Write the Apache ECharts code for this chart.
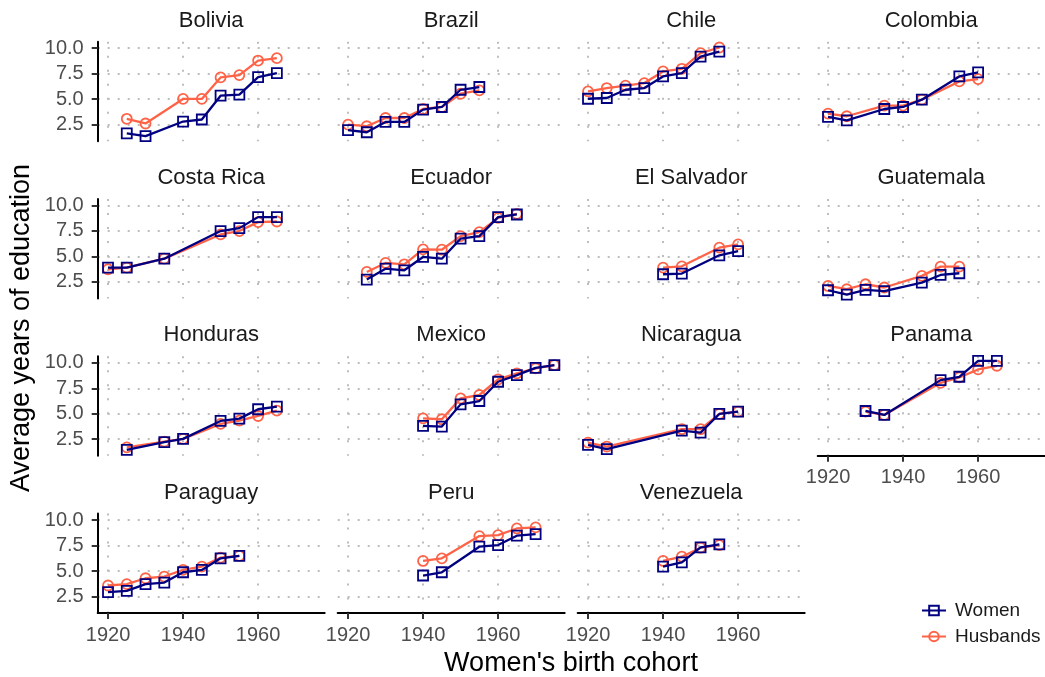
<!DOCTYPE html>
<html><head><meta charset="utf-8">
<script src="https://cdn.jsdelivr.net/npm/echarts@6/dist/echarts.min.js"></script>
<style>html,body{margin:0;padding:0;background:#fff}#c{width:1045px;height:677px}</style>
</head><body><div id="c"></div>
<script>
// ---- data ----
const countries = ['Bolivia','Brazil','Chile','Colombia','Costa Rica','Ecuador','El Salvador','Guatemala','Honduras','Mexico','Nicaragua','Panama','Paraguay','Peru','Venezuela'];
const xTicks = [1920, 1940, 1960];
const yTicks = [2.5, 5, 7.5, 10];

const boliviaYears = [1925,1930,1940,1945,1950,1955,1960,1965];
const boliviaWomen = [1.63,1.37,2.80,3.00,5.34,5.44,7.17,7.56];
const boliviaHusbands = [3.07,2.61,5.02,5.02,7.13,7.36,8.79,9.02];

const brazilYears = [1920,1925,1930,1935,1940,1945,1950,1955];
const brazilWomen = [1.95,1.75,2.76,2.76,3.97,4.23,5.92,6.19];
const brazilHusbands = [2.50,2.34,3.15,3.15,4.03,4.23,5.53,5.86];

const chileYears = [1920,1925,1930,1935,1940,1945,1950,1955];
const chileWomen = [5.04,5.11,5.92,6.09,7.23,7.55,9.18,9.67];
const chileHusbands = [5.76,6.09,6.32,6.58,7.72,7.98,9.51,10.07];

const colombiaYears = [1920,1925,1935,1940,1945,1955,1960];
const colombiaWomen = [3.25,2.92,4.03,4.23,4.95,7.23,7.62];
const colombiaHusbands = [3.58,3.32,4.36,4.36,4.95,6.74,6.97];

const costaRicaYears = [1920,1925,1935,1950,1955,1960,1965];
const costaRicaWomen = [3.90,3.90,4.78,7.49,7.78,8.86,8.86];
const costaRicaHusbands = [3.74,3.90,4.78,7.16,7.49,8.37,8.43];

const ecuadorYears = [1925,1930,1935,1940,1945,1950,1955,1960,1965];
const ecuadorWomen = [2.73,3.80,3.64,4.95,4.78,6.74,7.00,8.86,9.12];
const ecuadorHusbands = [3.48,4.36,4.23,5.70,5.66,7.00,7.39,8.79,9.18];

const elSalvadorYears = [1940,1945,1955,1960];
const elSalvadorWomen = [3.25,3.32,5.11,5.53];
const elSalvadorHusbands = [3.90,4.03,5.86,6.19];

const guatemalaYears = [1920,1925,1930,1935,1945,1950,1955];
const guatemalaWomen = [1.68,1.26,1.72,1.59,2.43,3.18,3.35];
const guatemalaHusbands = [2.10,1.78,2.27,1.95,3.09,4.00,4.00];

const hondurasYears = [1925,1935,1940,1950,1955,1960,1965];
const hondurasWomen = [1.46,2.21,2.53,4.29,4.52,5.44,5.70];
const hondurasHusbands = [1.69,2.27,2.53,4.00,4.33,4.78,5.30];

const mexicoYears = [1940,1945,1950,1955,1960,1965,1970,1975];
const mexicoWomen = [3.81,3.74,5.92,6.25,8.14,8.79,9.51,9.77];
const mexicoHusbands = [4.55,4.46,6.51,6.84,8.37,8.96,9.45,9.77];

const nicaraguaYears = [1920,1925,1945,1950,1955,1960];
const nicaraguaWomen = [1.95,1.52,3.35,3.15,4.98,5.20];
const nicaraguaHusbands = [2.17,1.78,3.48,3.48,4.98,5.20];

const panamaYears = [1930,1935,1950,1955,1960,1965];
const panamaWomen = [5.27,4.88,8.30,8.63,10.20,10.20];
const panamaHusbands = [5.20,4.88,8.04,8.57,9.35,9.71];

const paraguayYears = [1920,1925,1930,1935,1940,1945,1950,1955];
const paraguayWomen = [2.92,3.05,3.71,3.87,4.88,5.11,6.25,6.48];
const paraguayHusbands = [3.58,3.71,4.29,4.46,5.11,5.44,6.32,6.48];

const peruYears = [1940,1945,1955,1960,1965,1970];
const peruWomen = [4.56,4.88,7.39,7.55,8.47,8.63];
const peruHusbands = [5.99,6.25,8.43,8.53,9.18,9.28];

const venezuelaYears = [1940,1945,1950,1955];
const venezuelaWomen = [5.44,5.86,7.33,7.62];
const venezuelaHusbands = [5.99,6.41,7.29,7.55];

const panelYears = [boliviaYears,brazilYears,chileYears,colombiaYears,costaRicaYears,ecuadorYears,elSalvadorYears,guatemalaYears,hondurasYears,mexicoYears,nicaraguaYears,panamaYears,paraguayYears,peruYears,venezuelaYears];
const panelWomen = [boliviaWomen,brazilWomen,chileWomen,colombiaWomen,costaRicaWomen,ecuadorWomen,elSalvadorWomen,guatemalaWomen,hondurasWomen,mexicoWomen,nicaraguaWomen,panamaWomen,paraguayWomen,peruWomen,venezuelaWomen];
const panelHusbands = [boliviaHusbands,brazilHusbands,chileHusbands,colombiaHusbands,costaRicaHusbands,ecuadorHusbands,elSalvadorHusbands,guatemalaHusbands,hondurasHusbands,mexicoHusbands,nicaraguaHusbands,panamaHusbands,paraguayHusbands,peruHusbands,venezuelaHusbands];

// ---- layout / style ----
const FONT = '"Liberation Sans", Arial, Helvetica, sans-serif';
const NAVY = '#000080', TOMATO = '#FF6347';
const colLeft = [97.7, 337.7, 577.7, 817.7];
const rowTop = [41.7, 199, 356.3, 513.6];
const PW = 227, PH = 99.5;

const grids = [], xAxes = [], yAxes = [], series = [], graphics = [];
countries.forEach((name, i) => {
  const row = Math.floor(i / 4), col = i % 4;
  const bottom = i >= 12 || i === 11;
  const left = col === 0;
  grids.push({left: colLeft[col], top: rowTop[row], width: PW, height: PH, containLabel: false});
  xAxes.push({
    gridIndex: i, type: 'value', min: 1917.25, max: 1977.75,
    axisLine: {show: bottom, onZero: false, lineStyle: {color: '#000', width: 2}},
    axisTick: {show: bottom, customValues: xTicks, length: 6, lineStyle: {color: '#333', width: 2}},
    axisLabel: {show: bottom, customValues: xTicks, margin: 12, fontSize: 20, color: '#4d4d4d', fontFamily: FONT,
      formatter: v => String(Math.round(v))},
    splitLine: {show: true, lineStyle: {color: '#bdbdbd', width: 2, type: [2, 12]}}
  });
  yAxes.push({
    gridIndex: i, type: 'value', min: 0.87, max: 10.64,
    axisLine: {show: left, onZero: false, lineStyle: {color: '#000', width: 2}},
    axisTick: {show: left, customValues: yTicks, length: 6, lineStyle: {color: '#333', width: 2}},
    axisLabel: {show: left, customValues: yTicks, margin: 14, fontSize: 20, color: '#4d4d4d', fontFamily: FONT,
      formatter: v => Number(v).toFixed(1)},
    splitLine: {show: true, lineStyle: {color: '#bdbdbd', width: 2, type: [2, 8]}}
  });
  const yrs = panelYears[i];
  series.push({
    type: 'line', name: 'Husbands', xAxisIndex: i, yAxisIndex: i, z: 2,
    data: yrs.map((y, k) => [y, panelHusbands[i][k]]),
    symbol: 'circle', symbolSize: 10, showAllSymbol: true,
    lineStyle: {color: TOMATO, width: 2.3},
    itemStyle: {color: 'rgba(255,255,255,0)', borderColor: TOMATO, borderWidth: 1.8},
    emphasis: {disabled: true}, silent: true
  });
  series.push({
    type: 'line', name: 'Women', xAxisIndex: i, yAxisIndex: i, z: 3,
    data: yrs.map((y, k) => [y, panelWomen[i][k]]),
    symbol: 'rect', symbolSize: 10, showAllSymbol: true,
    lineStyle: {color: NAVY, width: 2.3},
    itemStyle: {color: 'rgba(255,255,255,0)', borderColor: NAVY, borderWidth: 1.8},
    emphasis: {disabled: true}, silent: true
  });
  graphics.push({type: 'text', x: colLeft[col] + PW / 2, y: rowTop[row] - 21, silent: true,
    style: {text: name, fontSize: 22, fontFamily: FONT, fill: '#1a1a1a', align: 'center', verticalAlign: 'middle'}});
});
graphics.push({type: 'text', x: 571, y: 664, silent: true,
  style: {text: "Women's birth cohort", fontSize: 27, fontFamily: FONT, fill: '#000', align: 'center', verticalAlign: 'middle'}});
graphics.push({type: 'text', x: 22, y: 328, rotation: Math.PI / 2, silent: true,
  style: {text: 'Average years of education', fontSize: 27, fontFamily: FONT, fill: '#000', align: 'center', verticalAlign: 'middle'}});

const chart = echarts.init(document.getElementById('c'), null, {renderer: 'canvas'});
chart.setOption({
  animation: false,
  backgroundColor: '#fff',
  grid: grids, xAxis: xAxes, yAxis: yAxes, series: series,
  legend: {
    data: ['Women', 'Husbands'], orient: 'vertical', left: 916, top: 596,
    itemWidth: 24, itemHeight: 12, itemGap: 7, selectedMode: false,
    textStyle: {fontSize: 19, color: '#1a1a1a', fontFamily: FONT, padding: [0, 0, 0, 4]}
  },
  graphic: graphics
});
</script></body></html>
